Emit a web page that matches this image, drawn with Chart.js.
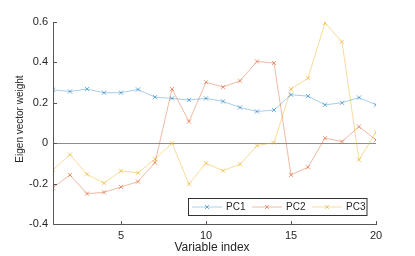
<!DOCTYPE html>
<html>
<head>
<meta charset="utf-8">
<script src="https://cdn.jsdelivr.net/npm/chart.js@4"></script>
<style>
  html, body { margin: 0; padding: 0; background: #fff; }
</style>
</head>
<body>
<canvas id="pcaChart" width="415" height="256"></canvas>
<script>
const variableIndex = [1, 2, 3, 4, 5, 6, 7, 8, 9, 10, 11, 12, 13, 14, 15, 16, 17, 18, 19, 20];
const pc1 = [0.264, 0.256, 0.268, 0.25, 0.25, 0.266, 0.228, 0.222, 0.214, 0.222, 0.207, 0.177, 0.157, 0.164, 0.24, 0.233, 0.19, 0.2, 0.226, 0.19];
const pc2 = [-0.22, -0.157, -0.25, -0.243, -0.217, -0.19, -0.096, 0.268, 0.107, 0.302, 0.278, 0.309, 0.405, 0.397, -0.157, -0.119, 0.025, 0.008, 0.082, 0.016];
const pc3 = [-0.132, -0.056, -0.154, -0.198, -0.137, -0.147, -0.079, 0.0, -0.203, -0.099, -0.136, -0.104, -0.012, 0.003, 0.268, 0.322, 0.595, 0.502, -0.083, 0.055];
const seriesNames = ["PC1", "PC2", "PC3"];
const xTicks = [5, 10, 15, 20];
const yTicks = [-0.4, -0.2, 0, 0.2, 0.4, 0.6];

const lineColors = ["rgba(0,114,189,0.35)", "rgba(217,83,25,0.4)", "rgba(237,177,32,0.45)"];
const markColors = ["rgba(0,114,189,0.55)", "rgba(217,83,25,0.55)", "rgba(237,177,32,0.6)"];
const FONT = "'Liberation Sans', Arial, sans-serif";

function toPoints(values) {
  return values.map((v, i) => ({ x: variableIndex[i], y: v }));
}

function drawCross(ctx, x, y, r, color) {
  ctx.strokeStyle = color;
  ctx.lineWidth = 1;
  ctx.beginPath();
  ctx.moveTo(x - r, y - r); ctx.lineTo(x + r, y + r);
  ctx.moveTo(x - r, y + r); ctx.lineTo(x + r, y - r);
  ctx.stroke();
}

// axes lines, inward ticks, zero line, titles, legend box
const matlabLook = {
  id: "matlabLook",
  beforeDatasetsDraw(chart) {
    const { ctx, chartArea: a, scales: { y } } = chart;
    const y0 = Math.round(y.getPixelForValue(0)) + 0.5;
    ctx.save();
    ctx.strokeStyle = "#8c8c8c";
    ctx.lineWidth = 1;
    ctx.beginPath();
    ctx.moveTo(a.left, y0);
    ctx.lineTo(a.right, y0);
    ctx.stroke();
    ctx.restore();
  },
  afterDraw(chart) {
    const { ctx, chartArea: a, scales: { x, y } } = chart;
    const left = Math.round(a.left) + 0.5;
    const bottom = Math.round(a.bottom) + 0.5;
    ctx.save();
    ctx.strokeStyle = "#555";
    ctx.lineWidth = 1;
    ctx.beginPath();
    ctx.moveTo(left, Math.round(a.top));
    ctx.lineTo(left, bottom);
    ctx.lineTo(Math.round(a.right) + 1, bottom);
    yTicks.forEach(v => {
      const py = Math.round(y.getPixelForValue(v)) + 0.5;
      ctx.moveTo(left, py);
      ctx.lineTo(left + 3.5, py);
    });
    xTicks.forEach(v => {
      const px = Math.round(x.getPixelForValue(v)) + 0.5;
      ctx.moveTo(px, bottom);
      ctx.lineTo(px, bottom - 3.5);
    });
    ctx.stroke();

    // axis titles
    ctx.fillStyle = "#262626";
    ctx.textAlign = "center";
    ctx.textBaseline = "middle";
    ctx.font = "12px " + FONT;
    ctx.fillText("Variable index", 212, 248);
    ctx.save();
    ctx.translate(20.5, 119);
    ctx.rotate(-Math.PI / 2);
    ctx.font = "10px " + FONT;
    ctx.fillText("Eigen vector weight", 0, 0);
    ctx.restore();

    // legend
    const box = { x: 188, y: 198.5, w: 178.5, h: 17 };
    ctx.fillStyle = "#fff";
    ctx.fillRect(box.x, box.y, box.w, box.h);
    ctx.strokeStyle = "#333";
    ctx.strokeRect(box.x + 0.5, box.y, box.w, box.h);
    const cy = box.y + box.h / 2;
    const starts = [192, 252, 312];
    ctx.font = "10px " + FONT;
    ctx.textAlign = "left";
    chart.data.datasets.forEach((ds, i) => {
      const sx = starts[i];
      ctx.strokeStyle = ds.borderColor;
      ctx.beginPath();
      ctx.moveTo(sx, cy);
      ctx.lineTo(sx + 30, cy);
      ctx.stroke();
      drawCross(ctx, sx + 15, cy, 2, ds.pointBorderColor);
      ctx.fillStyle = "#262626";
      ctx.fillText(ds.label, sx + 34, cy + 0.5);
    });
    ctx.restore();
  }
};

const datasets = [pc1, pc2, pc3].map((vals, i) => ({
  label: seriesNames[i],
  data: toPoints(vals),
  borderColor: lineColors[i],
  borderWidth: 1,
  pointStyle: "crossRot",
  pointRadius: 3,
  pointBorderWidth: 1,
  pointBorderColor: markColors[i],
  pointBackgroundColor: markColors[i],
  tension: 0,
  fill: false
}));

new Chart(document.getElementById("pcaChart"), {
  type: "line",
  data: { datasets },
  options: {
    responsive: false,
    animation: false,
    events: [],
    layout: { padding: { top: 22, right: 39, left: 0, bottom: 0 } },
    plugins: { legend: { display: false }, tooltip: { enabled: false } },
    scales: {
      x: {
        type: "linear",
        min: 1,
        max: 20,
        grid: { display: false, drawTicks: false },
        border: { display: false },
        afterBuildTicks: s => { s.ticks = xTicks.map(v => ({ value: v })); },
        afterFit: s => { s.height = 32; },
        ticks: {
          padding: 5,
          maxRotation: 0,
          color: "#262626",
          font: { family: FONT, size: 11 },
          callback: v => String(v)
        }
      },
      y: {
        min: -0.4,
        max: 0.6,
        grid: { display: false, drawTicks: false },
        border: { display: false },
        afterBuildTicks: s => { s.ticks = yTicks.map(v => ({ value: v })); },
        afterFit: s => { s.width = 53; },
        ticks: {
          padding: 5,
          color: "#262626",
          font: { family: FONT, size: 11 },
          callback: v => String(Math.round(v * 10) / 10)
        }
      }
    }
  },
  plugins: [matlabLook]
});
</script>
</body>
</html>
